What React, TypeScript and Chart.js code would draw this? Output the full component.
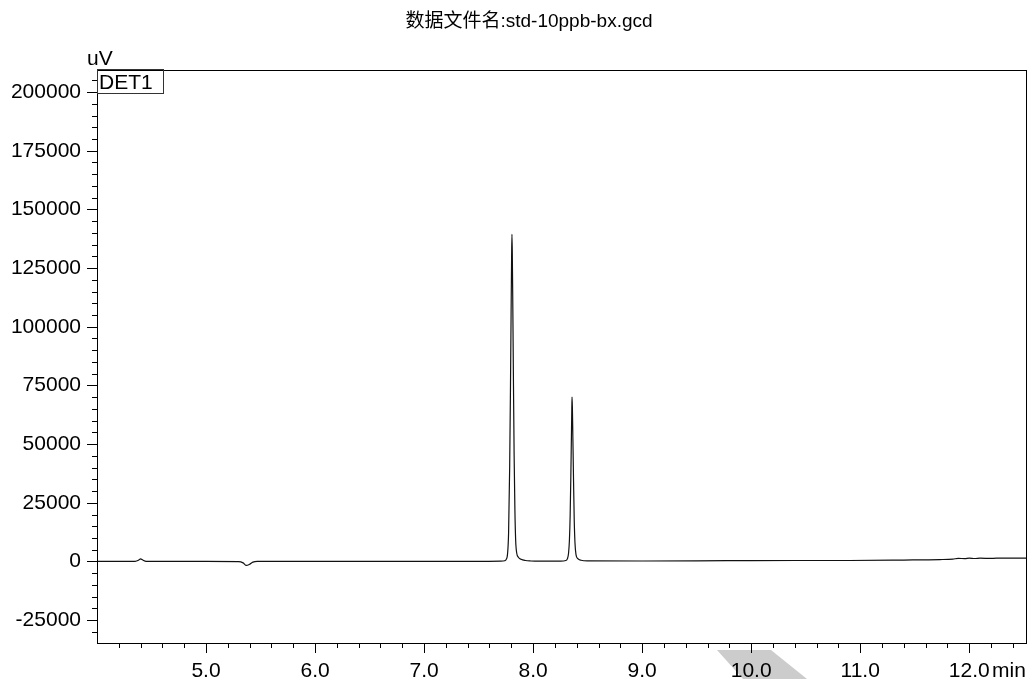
import React, { useEffect, useRef } from 'react';
import { Chart, registerables } from 'chart.js';

Chart.register(...registerables);

const TITLE = '数据文件名:std-10ppb-bx.gcd';
const Y_UNIT = 'uV';
const X_UNIT = 'min';
const DETECTOR = 'DET1';

// retention time (min)
const times = [
  4.0, 4.2, 4.35, 4.38, 4.4, 4.42, 4.45, 4.6, 5.0, 5.3, 5.34, 5.37, 5.4, 5.43, 5.47,
  6.0, 6.5, 7.0, 7.5,
  7.7, 7.74, 7.755, 7.765, 7.775, 7.785, 7.792, 7.798, 7.803, 7.806, 7.809, 7.814, 7.82,
  7.826, 7.833, 7.84, 7.85, 7.865, 7.89, 7.93, 7.98,
  8.05, 8.25, 8.3, 8.315, 8.325, 8.333, 8.34, 8.346, 8.351, 8.355, 8.357, 8.36, 8.365,
  8.371, 8.377, 8.384, 8.393, 8.41, 8.44, 8.5,
  9.0, 9.5, 10.0, 10.5, 10.9, 11.4, 11.73, 11.85, 11.9, 11.96, 12.0, 12.05, 12.1, 12.2, 12.3, 12.53,
];

// detector signal (uV)
const signal = [
  0, 0, 50, 500, 1100, 600, 50, 0, 0, -50, -600, -1700, -1200, -300, 0,
  0, 0, 0, 0,
  100, 300, 1000, 3000, 12000, 40000, 72000, 105000, 130000, 139400, 132000, 108000, 75000,
  45000, 22000, 9000, 3500, 1800, 900, 400, 200,
  100, 150, 400, 1200, 3500, 9000, 20000, 36000, 52000, 65000, 70000, 66000, 52000,
  34000, 18000, 8000, 3000, 1200, 500, 250,
  200, 250, 350, 400, 400, 600, 800, 1000, 1300, 1200, 1400, 1250, 1400, 1300, 1450, 1450,
];

const X_MIN = 4.0;
const X_MAX = 12.53;
const Y_MIN = -34750;
const Y_MAX = 209400;
const Y_MINOR_STEP = 5000;
const Y_MAJOR_STEP = 25000;
const X_MINOR_STEP = 0.2;
const X_MAJOR_STEP = 1;
const X_LABEL_FIRST = 5;

const FONT = '"Liberation Sans", Arial, sans-serif';

const isMultiple = (v: number, step: number) => {
  const r = v / step;
  return Math.abs(r - Math.round(r)) < 1e-6;
};

const stepTicks = (min: number, max: number, step: number) => {
  const out: { value: number }[] = [];
  const start = Math.ceil(min / step - 1e-9);
  const end = Math.floor(max / step + 1e-9);
  for (let i = start; i <= end; i++) out.push({ value: Math.round(i * step * 1000) / 1000 });
  return out;
};

const decorPlugin = {
  id: 'decor',
  beforeDraw(chart: any) {
    const ctx = chart.ctx;
    ctx.save();
    ctx.fillStyle = '#ffffff';
    ctx.fillRect(0, 0, chart.width, chart.height);
    // grey scan artifact behind the "10.0" label
    ctx.fillStyle = '#cccccc';
    ctx.beginPath();
    ctx.moveTo(717, 650);
    ctx.lineTo(771, 650);
    ctx.lineTo(807, 679);
    ctx.lineTo(743, 679);
    ctx.closePath();
    ctx.fill();
    ctx.restore();
  },
  afterDraw(chart: any) {
    const { ctx, chartArea: a, scales } = chart;
    ctx.save();
    ctx.strokeStyle = '#000';
    ctx.lineWidth = 1;
    ctx.strokeRect(a.left + 0.5, a.top + 0.5, a.right - a.left - 1, a.bottom - a.top);

    const ys = scales.y;
    ys.ticks.forEach((t: any) => {
      const v = t.value;
      const len = isMultiple(v, Y_MAJOR_STEP) ? 10 : 5;
      const py = Math.round(ys.getPixelForValue(v)) + 0.5;
      ctx.beginPath();
      ctx.moveTo(a.left, py);
      ctx.lineTo(a.left - len, py);
      ctx.stroke();
    });
    const xs = scales.x;
    xs.ticks.forEach((t: any) => {
      const v = t.value;
      if (v <= X_MIN + 0.01) return;
      const len = isMultiple(v, X_MAJOR_STEP) ? 10 : 5;
      const px = Math.round(xs.getPixelForValue(v)) + 0.5;
      ctx.beginPath();
      ctx.moveTo(px, a.bottom);
      ctx.lineTo(px, a.bottom + len);
      ctx.stroke();
    });

    ctx.fillStyle = '#000';
    ctx.font = '19px "Liberation Sans", "Noto Sans CJK SC", sans-serif';
    ctx.textAlign = 'center';
    ctx.textBaseline = 'middle';
    ctx.fillText(TITLE, 529, 22);

    ctx.font = '21px ' + FONT;
    ctx.textAlign = 'left';
    ctx.textBaseline = 'alphabetic';
    ctx.fillText(Y_UNIT, 87, 65);

    ctx.strokeStyle = '#333';
    ctx.strokeRect(a.left + 0.5, a.top - 0.5, 66, 24);
    ctx.fillText(DETECTOR, a.left + 2, a.top + 19);

    ctx.fillText(X_UNIT, 992, 677);
    ctx.restore();
  },
};

export default function App() {
  const ref = useRef<HTMLCanvasElement | null>(null);
  useEffect(() => {
    if (!ref.current) return;
    const points = times.map((t, i) => ({ x: t, y: signal[i] }));
    const chart = new Chart(ref.current, {
      type: 'line',
      data: {
        datasets: [
          {
            data: points,
            borderColor: '#111',
            borderWidth: 1.2,
            pointRadius: 0,
            cubicInterpolationMode: 'monotone',
            fill: false,
          },
        ],
      },
      options: {
        animation: false,
        responsive: false,
        layout: { padding: { top: 70, right: 1, bottom: 0, left: 0 } },
        plugins: { legend: { display: false }, tooltip: { enabled: false }, title: { display: false } },
        scales: {
          x: {
            type: 'linear',
            min: X_MIN,
            max: X_MAX,
            grid: { display: false, drawTicks: false },
            border: { display: false },
            afterBuildTicks: (s: any) => {
              s.ticks = stepTicks(X_MIN, X_MAX, X_MINOR_STEP);
            },
            ticks: {
              autoSkip: false,
              maxRotation: 0,
              padding: 16,
              color: '#000',
              font: { family: FONT, size: 21 },
              callback: (v: any) => {
                const n = Number(v);
                return isMultiple(n, X_MAJOR_STEP) && n >= X_LABEL_FIRST ? n.toFixed(1) : '';
              },
            },
            afterFit: (s: any) => {
              s.height = 36;
              s.paddingLeft = 0;
              s.paddingRight = 0;
            },
          },
          y: {
            type: 'linear',
            min: Y_MIN,
            max: Y_MAX,
            grid: { display: false, drawTicks: false },
            border: { display: false },
            afterBuildTicks: (s: any) => {
              s.ticks = stepTicks(Y_MIN, Y_MAX, Y_MINOR_STEP);
            },
            ticks: {
              autoSkip: false,
              padding: 16,
              color: '#000',
              font: { family: FONT, size: 21 },
              callback: (v: any) => {
                const n = Number(v);
                return isMultiple(n, Y_MAJOR_STEP) ? String(Math.round(n)) : '';
              },
            },
            afterFit: (s: any) => {
              s.width = 97;
              s.paddingTop = 0;
              s.paddingBottom = 0;
            },
          },
        },
      },
      plugins: [decorPlugin],
    } as any);
    return () => chart.destroy();
  }, []);
  return (
    <div style={{ position: 'absolute', left: 0, top: 0, width: 1028, height: 679, background: '#fff' }}>
      <canvas ref={ref} width={1028} height={679} style={{ display: 'block' }} />
    </div>
  );
}
